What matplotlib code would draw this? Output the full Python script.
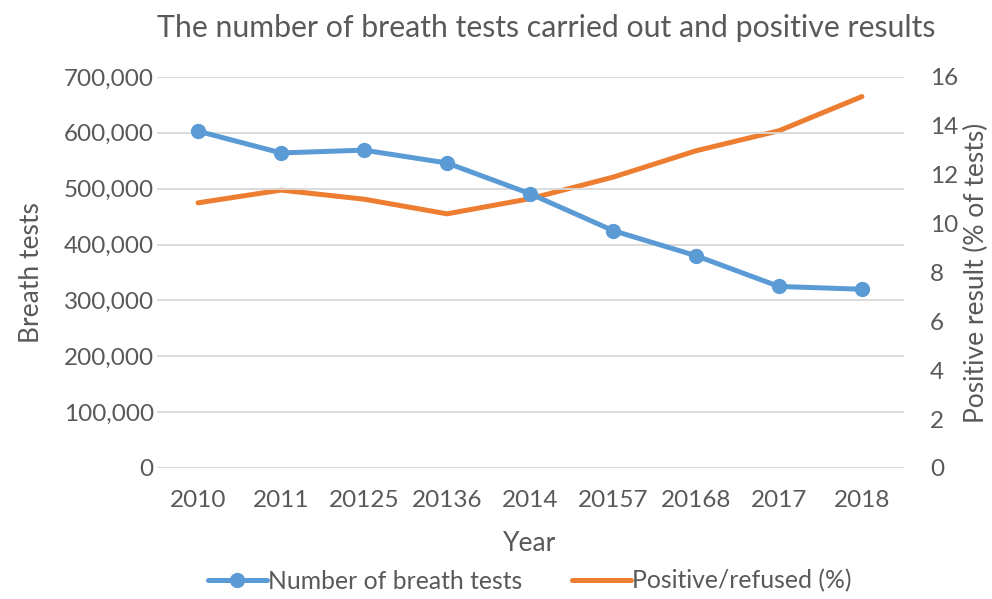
import matplotlib
matplotlib.use("Agg")
import matplotlib.pyplot as plt
from matplotlib.ticker import FuncFormatter, MultipleLocator

years = ["2010", "2011", "20125", "20136", "2014", "20157", "20168", "2017", "2018"]
breath_tests = [603000, 564000, 569000, 546000, 491000, 425000, 380000, 325000, 320000]
positive_pct = [10.85, 11.37, 11.0, 10.4, 11.02, 11.9, 12.98, 13.8, 15.2]

plt.rcParams['font.family'] = ['Lato', 'DejaVu Sans']
gray = '#595959'
blue = '#5b9bd5'
orange = '#ed7d31'

fig = plt.figure(figsize=(9.92, 5.99), dpi=100)
ax = fig.add_axes([0.1578, 0.2187, 0.7530, 0.6528])
ax2 = ax.twinx()

x = list(range(len(years)))
l1, = ax.plot(x, breath_tests, color=blue, lw=3.6, marker='o', markersize=10,
              solid_capstyle='round', label='Number of breath tests', zorder=3)
l2, = ax2.plot(x, positive_pct, color=orange, lw=3.6, solid_capstyle='round',
               label='Positive/refused (%)', zorder=3)

ax.set_xlim(-0.5, len(years) - 0.5)
ax.set_ylim(0, 700000)
ax2.set_ylim(0, 16)
ax.yaxis.set_major_locator(MultipleLocator(100000))
ax2.yaxis.set_major_locator(MultipleLocator(2))
ax.yaxis.set_major_formatter(FuncFormatter(lambda v, p: f"{int(v):,}"))
ax.set_xticks(x)
ax.set_xticklabels(years)

ax.grid(axis='y', color='#d9d9d9', lw=1.3)
ax.set_axisbelow(True)
for a in (ax, ax2):
    for s in a.spines.values():
        s.set_visible(False)
    a.tick_params(length=0, colors=gray, labelsize=17.5)
ax.tick_params(axis='y', pad=2)
ax.tick_params(axis='x', pad=16)
ax2.tick_params(axis='y', pad=19)
ax.set_zorder(ax2.get_zorder() + 1)
ax.patch.set_visible(False)

ax.set_xlabel('Year', color=gray, fontsize=19, labelpad=14)
ax.set_ylabel('Breath tests', color=gray, fontsize=19, labelpad=14)
ax2.set_ylabel('Positive result (% of tests)', color=gray, fontsize=19, labelpad=4)
fig.text(0.5505, 0.953, 'The number of breath tests carried out and positive results',
         ha='center', va='center', color=gray, fontsize=21.8)

fig.legend(handles=[l1, l2], loc='center', bbox_to_anchor=(0.534, 0.03), ncol=2,
           frameon=False, fontsize=17.8, labelcolor=gray, handlelength=2.4,
           columnspacing=2.0, handletextpad=0.05)

fig.savefig('out.png', dpi=100)
